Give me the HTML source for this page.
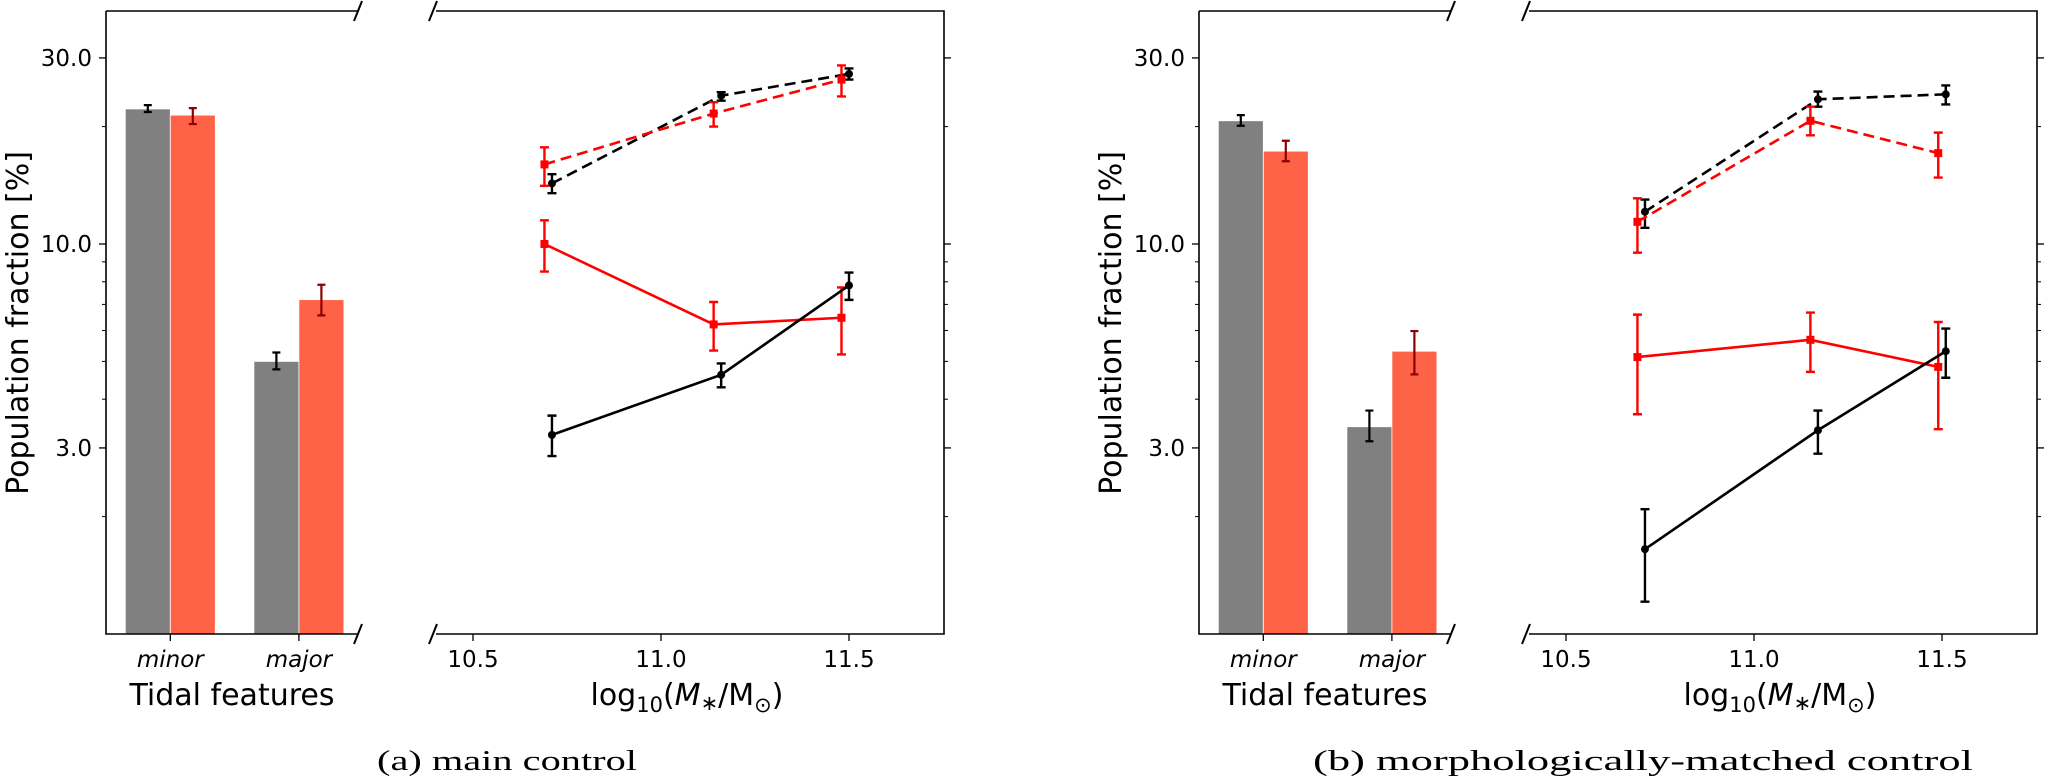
<!DOCTYPE html>
<html><head><meta charset="utf-8"><style>
html,body{margin:0;padding:0;background:#fff;}
svg{display:block;font-family:"DejaVu Sans","Liberation Sans",sans-serif;}
</style></head><body>
<svg id="fig" width="2050" height="779" viewBox="0 0 2050 779" xmlns="http://www.w3.org/2000/svg"></svg>
<script>
// ---- data ----
const barCategories = ["minor", "major"];
const barControlA = [22.2, 5.0];
const barControlErrLoA = [21.8, 4.77];
const barControlErrHiA = [22.7, 5.27];
const barMergerA = [21.4, 7.2];
const barMergerErrLoA = [20.3, 6.56];
const barMergerErrHiA = [22.3, 7.86];
const barControlB = [20.7, 3.40];
const barControlErrLoB = [20.1, 3.12];
const barControlErrHiB = [21.4, 3.74];
const barMergerB = [17.3, 5.31];
const barMergerErrLoB = [16.3, 4.63];
const barMergerErrHiB = [18.4, 5.98];

const massBlackA = [10.71, 11.16, 11.50];
const massRedA = [10.69, 11.14, 11.48];
const massBlackB = [10.71, 11.17, 11.51];
const massRedB = [10.69, 11.15, 11.49];

const blackDashA = [14.3, 24.0, 27.3];
const blackDashLoA = [13.5, 23.3, 26.4];
const blackDashHiA = [15.1, 24.5, 28.2];
const redDashA = [16.0, 21.6, 26.4];
const redDashLoA = [14.1, 20.0, 23.9];
const redDashHiA = [17.7, 23.1, 28.7];
const redSolidA = [10.0, 6.22, 6.47];
const redSolidLoA = [8.5, 5.33, 5.21];
const redSolidHiA = [11.5, 7.1, 7.74];
const blackSolidA = [3.24, 4.62, 7.83];
const blackSolidLoA = [2.86, 4.29, 7.19];
const blackSolidHiA = [3.63, 4.94, 8.45];

const blackDashB = [12.1, 23.5, 24.2];
const blackDashLoB = [11.0, 22.5, 22.8];
const blackDashHiB = [13.0, 24.6, 25.5];
const redDashB = [11.4, 20.7, 17.1];
const redDashLoB = [9.5, 19.0, 14.8];
const redDashHiB = [13.1, 22.5, 19.3];
const redSolidB = [5.13, 5.68, 4.84];
const redSolidLoB = [3.66, 4.70, 3.35];
const redSolidHiB = [6.59, 6.67, 6.31];
const blackSolidB = [1.65, 3.33, 5.31];
const blackSolidLoB = [1.21, 2.90, 4.54];
const blackSolidHiB = [2.09, 3.74, 6.07];

const yMajorTicks = [3, 10, 30];
const yMajorLabels = ["3.0", "10.0", "30.0"];
const yMinorTicks = [2, 4, 5, 6, 7, 8, 9, 20];
const xTicks = [10.5, 11.0, 11.5];
const xTickLabels = ["10.5", "11.0", "11.5"];

// ---- helpers ----
const NS = "http://www.w3.org/2000/svg";
const svg = document.getElementById("fig");
function mk(tag, attrs, parent) {
  const e = document.createElementNS(NS, tag);
  for (const k in attrs) e.setAttribute(k, attrs[k]);
  (parent || svg).appendChild(e);
  return e;
}
const TOP = 11, BOT = 634, DEC = 390;
function yS(v) { return BOT - Math.log10(v) * DEC; }
function xBar(ox, c) { return ox + 106 + (c + 0.5) * 128.6; }
function xLine(ox, m) { return ox + 473 + (m - 10.5) * 376; }

function panel(ox, id, D, caption, capX, capW) {
  const g = mk("g", {});
  
  
  const L = ox + 106, BR = ox + 358, LL = ox + 436, R = ox + 944;

  // bars
  for (let i = 0; i < barCategories.length; i++) {
    const c = xBar(ox, i);
    const w = 45;
    const gb = mk("rect", {x: c - w, y: yS(D.bc[i]), width: w, height: BOT - yS(D.bc[i]), fill: "#808080", stroke: "#fff", "stroke-width": 0.8}, g);
    
    
    const rb = mk("rect", {x: c, y: yS(D.bm[i]), width: w, height: BOT - yS(D.bm[i]), fill: "#ff6347", stroke: "#fff", "stroke-width": 0.8}, g);
    
    
    errbar(g, c - w / 2, D.bcLo[i], D.bcHi[i], "#000", 4, 2.2, 'bar-control-error-' + barCategories[i]);
    errbar(g, c + w / 2, D.bmLo[i], D.bmHi[i], "#8b0000", 4, 2.2, 'bar-merger-error-' + barCategories[i]);
  }

  // series
  series(g, ox, D.mb, D.bd, D.bdLo, D.bdHi, "#000", true, "circle", 'black-dashed');
  series(g, ox, D.mr, D.rd, D.rdLo, D.rdHi, "#ff0000", true, "square", 'red-dashed');
  series(g, ox, D.mr, D.rs, D.rsLo, D.rsHi, "#ff0000", false, "square", 'red-solid');
  series(g, ox, D.mb, D.bs, D.bsLo, D.bsHi, "#000", false, "circle", 'black-solid');

  // spines
  const sp = mk("path", {d: `M${L},${TOP} H${BR} M${L},${TOP} V${BOT} H${BR} M${LL},${TOP} H${R} V${BOT} H${LL}`, fill: "none", stroke: "#000", "stroke-width": 1.6}, g);
  
  
  // break marks
  [[BR, TOP], [BR, BOT], [LL - 3, TOP], [LL - 3, BOT]].forEach((p, k) => {
    const b = mk("line", {x1: p[0] - 4, y1: p[1] + 10, x2: p[0] + 4, y2: p[1] - 10, stroke: "#000", "stroke-width": 2}, g);
    
    
  });

  // y ticks
  for (let i = 0; i < yMajorTicks.length; i++) {
    const y = yS(yMajorTicks[i]);
    mk("line", {x1: L - 7, y1: y, x2: L, y2: y, stroke: "#000", "stroke-width": 1.3}, g);
    mk("line", {x1: R, y1: y, x2: R + 7, y2: y, stroke: "#000", "stroke-width": 1.3}, g);
    const t = mk("text", {x: L - 14, y: y + 8, "text-anchor": "end", "font-size": 23}, g);
    t.textContent = yMajorLabels[i];
    
    
  }
  for (let i = 0; i < yMinorTicks.length; i++) {
    const y = yS(yMinorTicks[i]);
    mk("line", {x1: L - 4, y1: y, x2: L, y2: y, stroke: "#000", "stroke-width": 1}, g);
    mk("line", {x1: R, y1: y, x2: R + 4, y2: y, stroke: "#000", "stroke-width": 1}, g);
  }
  // category ticks
  for (let i = 0; i < barCategories.length; i++) {
    const x = xBar(ox, i);
    mk("line", {x1: x, y1: BOT, x2: x, y2: BOT + 7, stroke: "#000", "stroke-width": 1.3}, g);
    const t = mk("text", {x: x, y: BOT + 33, "text-anchor": "middle", "font-size": 23, "font-style": "italic"}, g);
    t.textContent = barCategories[i];
    
    
  }
  // mass ticks
  for (let i = 0; i < xTicks.length; i++) {
    const x = xLine(ox, xTicks[i]);
    mk("line", {x1: x, y1: BOT, x2: x, y2: BOT + 7, stroke: "#000", "stroke-width": 1.3}, g);
    const t = mk("text", {x: x, y: BOT + 33, "text-anchor": "middle", "font-size": 23}, g);
    t.textContent = xTickLabels[i];
    
    
  }
  // axis labels
  const yl = mk("text", {x: 0, y: 0, "text-anchor": "middle", "font-size": 30, transform: `translate(${ox + 28},${323}) rotate(-90)`}, g);
  yl.textContent = "Population fraction [%]";
  
  
  const xl1 = mk("text", {x: (L + BR) / 2, y: 705, "text-anchor": "middle", "font-size": 30}, g);
  xl1.textContent = "Tidal features";
  
  
  const xl2 = mk("text", {x: (LL + R) / 2 - 3, y: 705, "text-anchor": "middle", "font-size": 30}, g);
  xl2.innerHTML = 'log<tspan font-size="21" dy="7">10</tspan><tspan dy="-7">(</tspan><tspan font-style="italic">M</tspan><tspan font-size="21" dy="5">∗</tspan><tspan dy="-5">/M</tspan><tspan font-size="21" dy="7">⊙</tspan><tspan dy="-7">)</tspan>';
  
  
  const cp = mk("text", {x: capX, y: 770, "text-anchor": "middle", "font-size": 29, "font-family": '"Liberation Serif", serif', textLength: capW, lengthAdjust: "spacingAndGlyphs"}, g);
  cp.textContent = caption;
  
  
}

function errbar(g, x, lo, hi, col, cap, sw, name) {
  const e = mk("path", {d: `M${x},${yS(lo)} V${yS(hi)} M${x - cap},${yS(lo)} H${x + cap} M${x - cap},${yS(hi)} H${x + cap}`, stroke: col, "stroke-width": sw, fill: "none"}, g);
  
  
}

function series(g, ox, xs, ys, lo, hi, col, dashed, marker, name) {
  let d = "";
  for (let i = 0; i < xs.length; i++) d += (i ? "L" : "M") + xLine(ox, xs[i]) + "," + yS(ys[i]);
  const p = mk("path", {d: d, fill: "none", stroke: col, "stroke-width": 2.6, "stroke-dasharray": dashed ? "11,6" : "none"}, g);
  
  
  for (let i = 0; i < xs.length; i++) {
    const x = xLine(ox, xs[i]), y = yS(ys[i]);
    errbar(g, x, lo[i], hi[i], col, 4.5, 2.4, 'error-' + name);
    let m;
    if (marker === "circle") m = mk("circle", {cx: x, cy: y, r: 4, fill: col}, g);
    else m = mk("rect", {x: x - 4, y: y - 4, width: 8, height: 8, fill: col}, g);
    
    
  }
}

panel(0, "a", {
  bc: barControlA, bcLo: barControlErrLoA, bcHi: barControlErrHiA,
  bm: barMergerA, bmLo: barMergerErrLoA, bmHi: barMergerErrHiA,
  mb: massBlackA, mr: massRedA,
  bd: blackDashA, bdLo: blackDashLoA, bdHi: blackDashHiA,
  rd: redDashA, rdLo: redDashLoA, rdHi: redDashHiA,
  rs: redSolidA, rsLo: redSolidLoA, rsHi: redSolidHiA,
  bs: blackSolidA, bsLo: blackSolidLoA, bsHi: blackSolidHiA
}, "(a) main control", 507, 260);

panel(1093, "b", {
  bc: barControlB, bcLo: barControlErrLoB, bcHi: barControlErrHiB,
  bm: barMergerB, bmLo: barMergerErrLoB, bmHi: barMergerErrHiB,
  mb: massBlackB, mr: massRedB,
  bd: blackDashB, bdLo: blackDashLoB, bdHi: blackDashHiB,
  rd: redDashB, rdLo: redDashLoB, rdHi: redDashHiB,
  rs: redSolidB, rsLo: redSolidLoB, rsHi: redSolidHiB,
  bs: blackSolidB, bsLo: blackSolidLoB, bsHi: blackSolidHiB
}, "(b) morphologically-matched control", 1643, 660);
</script>
</body></html>
